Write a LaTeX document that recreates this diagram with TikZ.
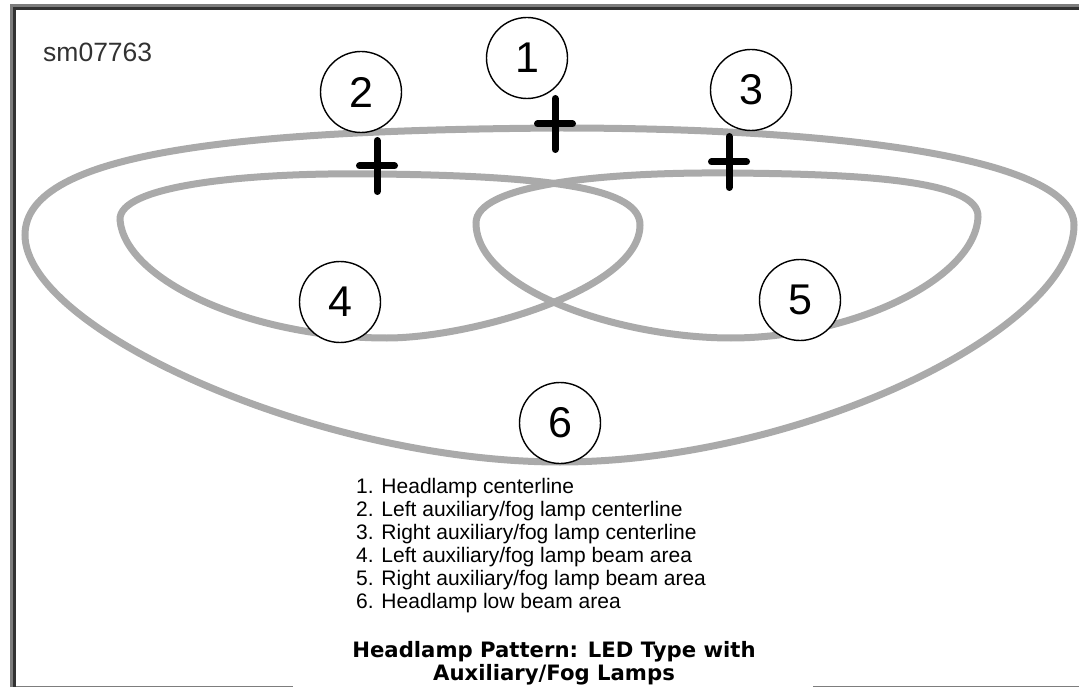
\documentclass[tikz,border=0pt]{standalone}
\usepackage{fontspec}
\setmainfont{Liberation Sans}
\newfontfamily\captionfont{DejaVu Sans}
\usepackage{tikz}
\usetikzlibrary{positioning}

\definecolor{beamgray}{RGB}{170,170,170}
\definecolor{framegray}{RGB}{125,125,125}
\definecolor{framedark}{RGB}{50,50,50}

\begin{document}
\begin{tikzpicture}[x=1pt, y=-1pt,
		beam/.style={draw=beamgray, line width=7pt},
		callout/.style={
			circle, draw, line width=1.4pt, fill=white,
			minimum size=81pt, inner sep=0pt,
			font=\fontsize{43}{43}\selectfont
		},
		cross/.style={line width=7pt, line cap=round},
		legend/.style={
			align=left, inner sep=0pt,
			font=\fontsize{21}{23}\selectfont
		},
		title/.style={
			align=center, inner sep=0pt,
			font=\captionfont\bfseries\fontsize{21.2}{23}\selectfont
		},
		]
		
		\useasboundingbox (0,0) rectangle (1079,687);
		
		%frame
		\draw[framegray, line width=3pt] (11.5,687) -- (11.5,5.5) -- (1079,5.5);
		\draw[framedark, line width=3pt] (14.5,687) -- (14.5,8.5) -- (1079,8.5);
		\draw[framegray, line width=1pt] (16,686) -- (293,686) (813,686) -- (1079,686);
		
		\node[anchor=base west, inner sep=0pt, text=framedark, font=\fontsize{26.5}{26.5}\selectfont] (code) at (43,62) {sm07763};
		
		%beam areas
		\draw[beam] (25,235) .. controls (25,150) and (250,130) .. (560,128) .. controls (850,128) and (1074,160) .. (1074,225) .. controls (1074,330) and (800,462) .. (560,462) .. controls (320,462) and (25,330) .. cycle;
		\draw[beam] (120,220) .. controls (118,185) and (250,172) .. (378,174) .. controls (560,176) and (640,190) .. (640,225) .. controls (640,290) and (470,338) .. (387,338) .. controls (250,338) and (125,280) .. cycle;
		\draw[beam] (476,223) .. controls (476,185) and (600,172) .. (729,173) .. controls (860,174) and (980,180) .. (978,217) .. controls (975,280) and (850,338) .. (731,338) .. controls (620,338) and (476,290) .. cycle;
		
		%callouts
		\node[callout] (n1) at (527,58) {1};
		\node[callout] (n2) at (361,92) {2};
		\node[callout] (n3) at (751,90) {3};
		\node[callout] (n4) at (340,302) {4};
		\node[callout] (n5) at (800,300) {5};
		\node[callout] (n6) at (560,423) {6};
		
		%centerlines
		\coordinate (x1) at (555,124);
		\coordinate (x2) at (377,166);
		\coordinate (x3) at (729,162);
		\foreach \c in {x1,x2,x3}
		\draw[cross] (\c) +(0,-25.5) -- +(0,25.5) (\c) +(-17.5,0) -- +(17.5,0);
		
		%legend
		\node[legend, anchor=north west] (list) at (356,478) {1. Headlamp centerline\\2. Left auxiliary/fog lamp centerline\\3. Right auxiliary/fog lamp centerline\\4. Left auxiliary/fog lamp beam area\\5. Right auxiliary/fog lamp beam area\\6. Headlamp low beam area};
		
		\node (title) at (list.south -| n6) [title, anchor=north, xshift=-6pt, yshift=-28pt] {Headlamp Pattern: LED Type with\\Auxiliary/Fog Lamps};
	\end{tikzpicture}
\end{document}
